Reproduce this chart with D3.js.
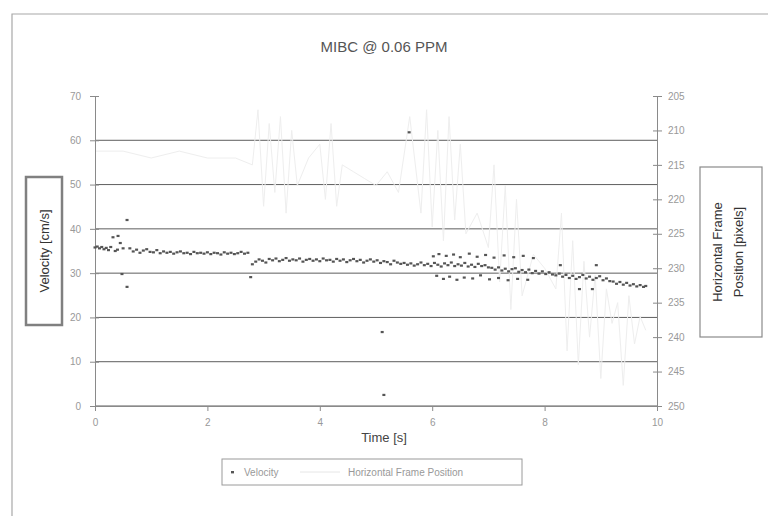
<!DOCTYPE html>
<html>
<head>
<meta charset="utf-8">
<script src="https://cdn.jsdelivr.net/npm/d3@7"></script>
<style>
  html, body { margin: 0; padding: 0; background: #fff; }
  svg { display: block; font-family: "Liberation Sans", Arial, sans-serif; }
</style>
</head>
<body>
<svg id="chart" width="768" height="516"></svg>
<script>
// Velocity samples (time in s, velocity in cm/s)
const velocityTime = [
  0.00,0.04,0.08,0.12,0.16,0.20,0.24,0.28,0.32,0.36,0.40,0.41,0.45,0.48,0.50,0.57,0.57,
  0.62,0.68,0.74,0.80,0.86,0.92,0.98,1.04,1.10,1.16,1.22,1.28,1.34,1.40,1.46,1.52,1.58,1.64,
  1.70,1.76,1.82,1.88,1.94,2.00,2.06,2.12,2.18,2.24,2.30,2.36,2.42,2.48,2.54,2.60,2.66,2.72,
  2.77,2.80,2.86,2.92,2.98,3.04,3.10,3.16,3.22,3.28,3.34,3.40,3.46,3.52,3.58,3.64,3.70,3.76,
  3.82,3.88,3.94,4.00,4.06,4.12,4.18,4.24,4.30,4.36,4.42,4.48,4.54,4.60,4.66,4.72,4.78,4.84,
  4.90,4.96,5.02,5.08,5.14,5.20,5.26,5.32,5.38,5.44,
  5.11,5.14,5.59,
  5.50,5.56,5.62,5.68,5.74,5.80,5.86,5.92,5.98,6.04,6.10,6.16,6.22,6.28,6.34,6.40,6.46,6.52,
  6.58,6.64,6.70,6.76,6.82,6.88,6.94,7.00,
  6.02,6.12,6.25,6.38,6.50,6.66,6.80,6.95,7.10,7.28,7.45,7.62,7.80,
  6.08,6.20,6.31,6.44,6.57,6.72,6.86,7.02,7.18,7.35,7.52,7.70,
  7.06,7.12,7.18,7.24,7.30,7.36,7.42,7.48,7.54,7.60,7.66,7.72,7.78,7.84,7.90,7.96,8.02,8.08,8.14,
  8.20,8.26,8.32,8.38,8.44,8.50,8.56,8.62,8.68,8.74,8.80,8.86,8.92,8.98,9.04,9.10,9.16,
  8.28,8.92,8.62,8.85,
  9.22,9.28,9.34,9.40,9.46,9.52,9.58,9.64,9.70,9.76,9.80
];
const velocityValue = [
  35.8,36.0,35.6,35.9,35.4,35.7,35.2,35.9,38.1,35.0,35.3,38.4,36.8,29.8,35.6,26.9,42.0,
  35.6,34.9,35.3,34.6,35.1,35.4,34.8,34.7,35.2,34.5,34.9,34.6,34.8,34.4,34.7,34.9,34.5,34.6,
  34.3,34.8,34.5,34.6,34.4,34.7,34.3,34.6,34.5,34.2,34.7,34.4,34.6,34.3,34.5,34.8,34.4,34.6,
  29.1,32.0,32.6,33.1,32.8,32.4,33.2,32.9,33.3,32.7,33.0,33.4,32.8,33.1,32.9,33.3,32.6,33.0,
  33.2,32.8,33.1,32.7,33.3,32.9,33.0,32.6,33.2,32.8,33.1,32.5,32.9,33.2,32.7,33.0,32.4,32.8,
  33.1,32.6,32.9,32.3,32.7,32.5,32.0,32.8,32.4,32.1,
  16.7,2.5,61.8,
  32.3,31.9,32.2,31.7,32.0,32.4,31.8,32.1,31.6,32.3,31.9,31.5,32.2,31.8,32.4,31.6,32.0,31.7,
  32.3,31.5,31.9,31.4,32.1,31.6,31.8,31.3,
  33.8,34.3,33.9,34.2,33.6,34.4,33.7,34.1,33.5,34.0,33.6,33.9,33.4,
  29.4,28.7,29.2,28.5,29.0,28.8,29.5,28.6,28.9,28.4,28.7,28.5,
  31.2,30.8,31.3,30.6,31.0,30.4,30.9,31.1,30.3,30.7,30.2,30.8,30.0,30.5,29.9,30.4,29.8,30.2,29.7,
  29.5,29.9,29.2,29.6,28.9,29.4,28.7,29.1,29.6,28.8,29.2,28.5,28.9,29.3,28.4,28.8,28.2,
  31.8,31.8,26.4,26.4,
  28.1,27.6,28.0,27.4,27.8,27.2,27.5,27.0,27.3,26.9,27.1
];

// Horizontal frame position (pixels), plotted on the reversed right axis
const frameTime = [
  0,0.5,1.0,1.5,2.0,2.5,2.8,2.9,3.0,3.1,3.2,3.3,3.4,3.5,3.6,3.8,4.0,4.1,4.2,4.3,4.4,4.6,4.8,
  5.0,5.2,5.4,5.6,5.8,5.9,6.0,6.1,6.2,6.3,6.4,6.5,6.6,6.8,7.0,7.1,7.2,7.3,7.4,7.5,7.6,7.8,
  8.0,8.2,8.3,8.4,8.5,8.6,8.7,8.8,8.9,9.0,9.1,9.2,9.3,9.4,9.5,9.6,9.7,9.8
];
const framePosition = [
  213,213,214,213,214,214,215,207,221,209,219,208,222,210,218,214,212,220,209,221,215,216,217,
  218,216,219,208,222,207,224,210,226,208,223,212,225,222,227,215,232,218,236,220,234,228,
  230,233,222,242,226,244,229,240,231,246,233,238,235,247,234,241,237,239
];

const timeTicks = [0, 2, 4, 6, 8, 10];
const velocityTicks = [0, 10, 20, 30, 40, 50, 60, 70];
const positionTicks = [205, 210, 215, 220, 225, 230, 235, 240, 245, 250];
const gridValues = [0, 10, 20, 30, 40, 50, 60];

const svg = d3.select("#chart");
const plot = { left: 95, right: 657, top: 96, bottom: 406 };

const x = d3.scaleLinear().domain([0, 10]).range([plot.left, plot.right]);
const yV = d3.scaleLinear().domain([0, 70]).range([plot.bottom, plot.top]);
const yP = d3.scaleLinear().domain([205, 250]).range([plot.top, plot.bottom]);

// Outer chart frame
svg.append("path")
  .attr("d", "M12,516 V14 H768")
  .attr("fill", "none").attr("stroke", "#a8a8a8").attr("stroke-width", 1.2);

// Title
svg.append("text")
  .attr("x", 384).attr("y", 52).attr("text-anchor", "middle")
  .attr("font-size", 15).attr("fill", "#555")
  .text("MIBC @ 0.06 PPM");

// Horizontal gridlines
svg.append("g").selectAll("line").data(gridValues).join("line")
  .attr("x1", plot.left).attr("x2", plot.right)
  .attr("y1", d => yV(d)).attr("y2", d => yV(d))
  .attr("stroke", "#5e5e5e").attr("stroke-width", 1);

// Frame position series (faint line)
const framePts = frameTime.map((t, i) => [t, framePosition[i]]);
svg.append("path")
  .datum(framePts)
  .attr("d", d3.line().x(d => x(d[0])).y(d => yP(d[1])))
  .attr("fill", "none").attr("stroke", "#eeeeee").attr("stroke-width", 1);

// Axes
const axisColor = "#8a8a8a";
const gx = svg.append("g").attr("transform", `translate(0,${yV(0)})`)
  .call(d3.axisBottom(x).tickValues(timeTicks).tickSize(5).tickSizeOuter(0).tickPadding(8));
const gl = svg.append("g").attr("transform", `translate(${plot.left},0)`)
  .call(d3.axisLeft(yV).tickValues(velocityTicks).tickSize(5).tickSizeOuter(0).tickPadding(9));
const gr = svg.append("g").attr("transform", `translate(${plot.right},0)`)
  .call(d3.axisRight(yP).tickValues(positionTicks).tickSize(5).tickSizeOuter(0).tickPadding(6));
[gx, gl, gr].forEach(g => {
  g.select(".domain").attr("stroke", axisColor);
  g.selectAll(".tick line").attr("stroke", axisColor);
  g.selectAll(".tick text").attr("fill", "#999").attr("font-size", 10)
    .attr("font-family", "Liberation Sans, Arial, sans-serif");
});
gl.selectAll(".tick line").attr("x2", -5).attr("x1", 4);
gr.selectAll(".tick line").attr("x1", -4);

// Velocity markers
const velPts = velocityTime.map((t, i) => [t, velocityValue[i]]);
svg.append("g").selectAll("rect").data(velPts).join("rect")
  .attr("x", d => x(d[0]) - 1.5).attr("y", d => yV(d[1]) - 1.1)
  .attr("width", 3).attr("height", 2.2)
  .attr("fill", "#555");

// Axis titles
svg.append("text")
  .attr("x", 384).attr("y", 442).attr("text-anchor", "middle")
  .attr("font-size", 13).attr("fill", "#444")
  .text("Time [s]");

const leftBox = svg.append("g");
leftBox.append("rect").attr("x", 26).attr("y", 177).attr("width", 36).attr("height", 148)
  .attr("fill", "#fff").attr("stroke", "#808080").attr("stroke-width", 2.5);
leftBox.append("text")
  .attr("transform", "translate(49,251) rotate(-90)")
  .attr("text-anchor", "middle").attr("font-size", 13).attr("fill", "#333")
  .text("Velocity [cm/s]");

const rightBox = svg.append("g");
rightBox.append("rect").attr("x", 700).attr("y", 167).attr("width", 62).attr("height", 170)
  .attr("fill", "#fff").attr("stroke", "#8a8a8a").attr("stroke-width", 1.2);
rightBox.append("text")
  .attr("transform", "translate(722,252) rotate(-90)")
  .attr("text-anchor", "middle").attr("font-size", 13).attr("fill", "#333")
  .text("Horizontal Frame");
rightBox.append("text")
  .attr("transform", "translate(743,252) rotate(-90)")
  .attr("text-anchor", "middle").attr("font-size", 13).attr("fill", "#333")
  .text("Position [pixels]");

// Legend
const legend = svg.append("g");
legend.append("rect").attr("x", 222).attr("y", 459).attr("width", 300).attr("height", 26)
  .attr("fill", "#fff").attr("stroke", "#9a9a9a").attr("stroke-width", 1);
legend.append("rect").attr("x", 231).attr("y", 471).attr("width", 3).attr("height", 2.4)
  .attr("fill", "#555");
legend.append("text").attr("x", 244).attr("y", 476)
  .attr("font-size", 10).attr("fill", "#999").text("Velocity");
legend.append("line").attr("x1", 300).attr("x2", 340).attr("y1", 472).attr("y2", 472)
  .attr("stroke", "#e6e6e6");
legend.append("text").attr("x", 348).attr("y", 476)
  .attr("font-size", 10).attr("fill", "#999").text("Horizontal Frame Position");
</script>
</body>
</html>
